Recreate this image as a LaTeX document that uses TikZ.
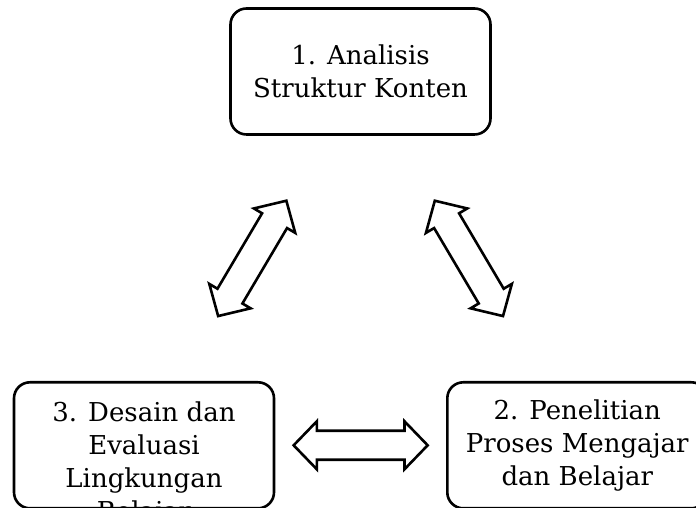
\documentclass[tikz,border=0pt]{standalone}
\usepackage{fontspec}
\setmainfont{DejaVu Serif}
\usetikzlibrary{shapes.arrows,calc}

\begin{document}
\begin{tikzpicture}[x=1pt, y=1pt,
    stage/.style={draw=black, line width=2.6pt, rounded corners=16pt, minimum width=260pt,
      minimum height=126pt, align=center, inner sep=0pt, font=\fontsize{26}{33}\selectfont},
    stagetext/.style={align=center, inner sep=0pt, font=\fontsize{26}{33}\selectfont},
    link/.style={double arrow, draw=black, fill=white, line width=2.6pt, inner xsep=0pt,
      inner ysep=13.2pt, double arrow head extend=9.5pt, double arrow tip angle=92,
      minimum height=134pt}
  ]
    \path[use as bounding box, clip] (0,0) rectangle (696,508);
    \node[stage] (analisis) at (360.5,436.5) {1. Analisis\\Struktur Konten};
    \node[stage] (desain) at (144,62.7) {};
    \node[stagetext, anchor=north] (desaintext) at ([yshift=44pt]desain.center)
      {3. Desain dan\\Evaluasi\\Lingkungan\\Belajar};
    \node[stage] (penelitian) at (577.3,62.7) {2. Penelitian\\Proses Mengajar\\dan Belajar};
    % hollow two-way links between the stages
    \node[link, rotate=59.4] (linkkiri) at ($(analisis.south west)!0.5!(desain.north east)$) {};
    \node[link, rotate=-59.4] (linkkanan) at ($(analisis.south east)!0.5!(penelitian.north west)$) {};
    \node[link] (linkbawah) at ($(desain.east)!0.5!(penelitian.west)$) {};
  \end{tikzpicture}
\end{document}
